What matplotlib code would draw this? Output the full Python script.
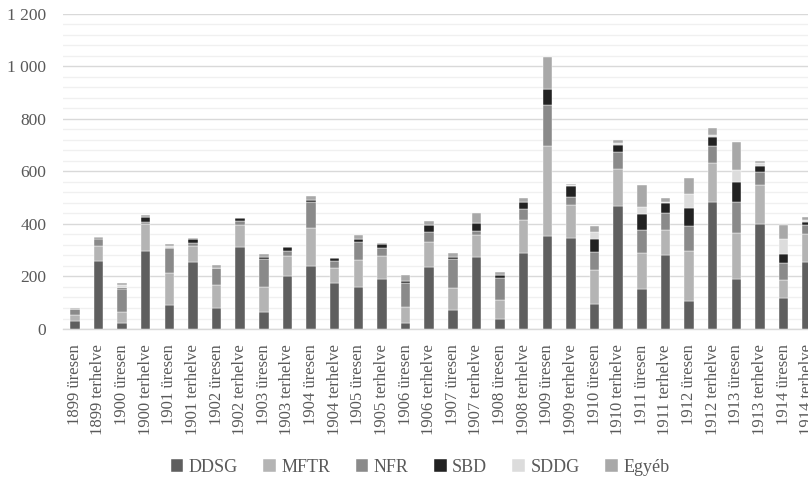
import matplotlib
matplotlib.use("Agg")
import matplotlib.pyplot as plt
import numpy as np
from matplotlib.ticker import MultipleLocator, FuncFormatter

categories = [
    "1899 üresen", "1899 terhelve", "1900 üresen", "1900 terhelve",
    "1901 üresen", "1901 terhelve", "1902 üresen", "1902 terhelve",
    "1903 üresen", "1903 terhelve", "1904 üresen", "1904 terhelve",
    "1905 üresen", "1905 terhelve", "1906 üresen", "1906 terhelve",
    "1907 üresen", "1907 terhelve", "1908 üresen", "1908 terhelve",
    "1909 üresen", "1909 terhelve", "1910 üresen", "1910 terhelve",
    "1911 üresen", "1911 terhelve", "1912 üresen", "1912 terhelve",
    "1913 üresen", "1913 terhelve", "1914 üresen", "1914 terhelve",
]

ddsg = [30, 259, 22, 298, 91, 255, 79, 313, 65, 203, 241, 176,
        158, 190, 24, 236, 72, 275, 38, 290, 355, 345, 97, 467,
        152, 283, 106, 484, 190, 398, 117, 254]
mftr = [22, 56, 41, 100, 124, 60, 88, 82, 95, 75, 145, 56,
        104, 87, 58, 96, 84, 84, 73, 126, 341, 125, 128, 143,
        139, 95, 192, 149, 176, 150, 71, 107]
nfr = [25, 27, 90, 9, 94, 12, 64, 16, 108, 20, 97, 26,
       70, 31, 93, 38, 112, 13, 83, 41, 158, 32, 69, 62,
       87, 65, 95, 64, 119, 48, 65, 35]
sbd = [0, 6, 2, 21, 0, 16, 0, 10, 5, 14, 6, 11,
       11, 14, 8, 27, 5, 32, 13, 28, 58, 41, 50, 28,
       59, 36, 69, 33, 73, 26, 32, 11]
sddg = [0, 0, 11, 0, 5, 0, 3, 0, 0, 0, 0, 0,
        0, 3, 0, 0, 0, 0, 0, 0, 0, 4, 24, 8,
        27, 5, 53, 9, 47, 8, 59, 8]
egyeb = [3, 2, 9, 4, 9, 2, 11, 3, 13, 0, 16, 2,
         15, 4, 21, 13, 18, 38, 9, 14, 123, 6, 24, 11,
         83, 14, 61, 24, 106, 11, 52, 10]

series = [
    ("DDSG", ddsg, "#5f5f5f"),
    ("MFTR", mftr, "#b4b4b4"),
    ("NFR", nfr, "#8a8a8a"),
    ("SBD", sbd, "#222222"),
    ("SDDG", sddg, "#dcdcdc"),
    ("Egyéb", egyeb, "#a8a8a8"),
]

plt.rcParams["font.family"] = ["Liberation Serif", "DejaVu Serif"]
text_color = "#595959"

fig = plt.figure(figsize=(8.08, 4.84), dpi=100)
ax = fig.add_axes([0.078, 0.3202, 0.9356, 0.6518])

x = np.arange(len(categories))
bottom = np.zeros(len(categories))
handles = []
for name, vals, color in series:
    v = np.array(vals, dtype=float)
    h = ax.bar(x, v, width=0.4, bottom=bottom, color=color,
               edgecolor="white", linewidth=0.3, label=name, zorder=3)
    handles.append(h)
    bottom += v

ax.set_xlim(-0.5, len(categories) - 0.5)
ax.set_ylim(0, 1200)
ax.yaxis.set_major_locator(MultipleLocator(200))
ax.yaxis.set_minor_locator(MultipleLocator(40))
ax.yaxis.set_major_formatter(
    FuncFormatter(lambda v, p: f"{int(v):,}".replace(",", " ")))
ax.grid(axis="y", which="major", color="#d9d9d9", linewidth=1.0, zorder=0)
ax.grid(axis="y", which="minor", color="#f0f0f0", linewidth=1.0, zorder=0)

for side in ("top", "right", "left"):
    ax.spines[side].set_visible(False)
ax.spines["bottom"].set_color("#d9d9d9")
ax.spines["bottom"].set_linewidth(1.0)

ax.set_xticks(x)
ax.set_xticklabels(categories, rotation=90, fontsize=12, color=text_color)
ax.tick_params(axis="x", length=0, pad=11)
ax.tick_params(axis="y", which="both", length=0, pad=12,
               labelsize=12.5, labelcolor=text_color)

fig.legend(handles=handles, labels=[s[0] for s in series], ncol=6,
           loc="center", bbox_to_anchor=(420 / 808, 1 - 467 / 484),
           frameon=False, fontsize=13, labelcolor=text_color,
           handlelength=0.7, handleheight=0.7, handletextpad=0.3,
           columnspacing=1.4)

fig.savefig("out.png", dpi=100)
